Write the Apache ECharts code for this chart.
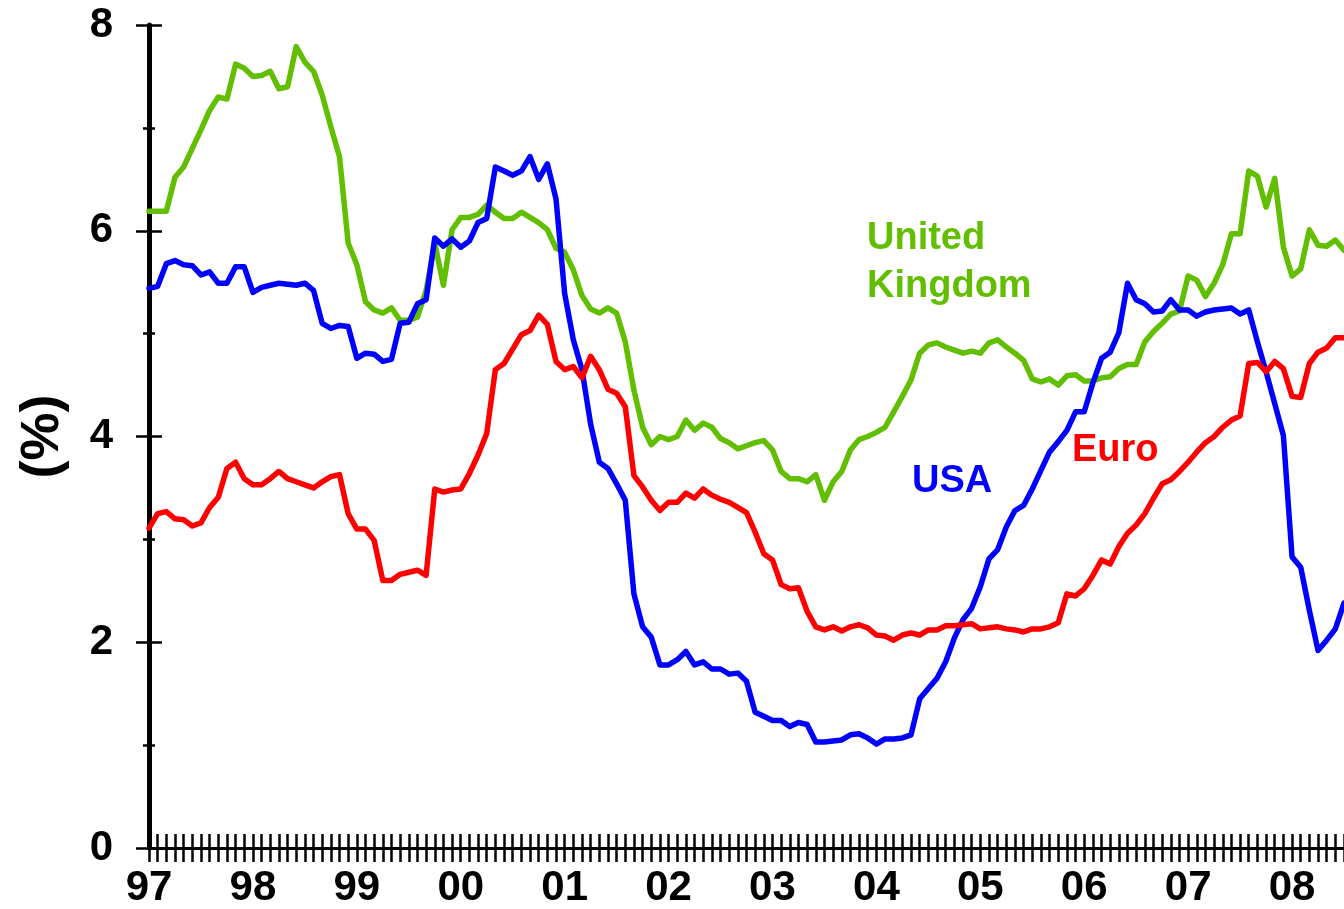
<!DOCTYPE html>
<html>
<head>
<meta charset="utf-8">
<script src="https://cdn.jsdelivr.net/npm/echarts@6/dist/echarts.min.js"></script>
<style>
  html, body { margin: 0; padding: 0; background: #fff; }
  #chart { width: 1344px; height: 909px; }
</style>
</head>
<body>
<div id="chart"></div>
<script>
var chart = echarts.init(document.getElementById('chart'));

var FONT = "'Liberation Sans', Arial, sans-serif";

// year labels on the x axis (one per January)
var years = ['97', '98', '99', '00', '01', '02', '03', '04', '05', '06', '07', '08'];

// monthly values, Jan 1997 onwards (%)
var usa = [
    5.44, 5.46, 5.68, 5.71, 5.67, 5.66, 5.57, 5.60, 5.49, 5.49, 5.65, 5.65,
    5.40, 5.45, 5.47, 5.49, 5.48, 5.47, 5.49, 5.42, 5.10, 5.05, 5.08, 5.07,
    4.76, 4.81, 4.80, 4.73, 4.75, 5.10, 5.11, 5.29, 5.33, 5.93, 5.85, 5.92,
    5.84, 5.90, 6.08, 6.12, 6.62, 6.58, 6.54, 6.58, 6.72, 6.50, 6.65, 6.31,
    5.39, 4.94, 4.65, 4.12, 3.75, 3.69, 3.54, 3.38, 2.47, 2.15, 2.05, 1.78,
    1.78, 1.83, 1.91, 1.78, 1.81, 1.74, 1.74, 1.69, 1.70, 1.62, 1.32, 1.28,
    1.24, 1.24, 1.18, 1.22, 1.20, 1.03, 1.03, 1.04, 1.05, 1.10, 1.11, 1.07,
    1.01, 1.06, 1.06, 1.07, 1.10, 1.45, 1.55, 1.65, 1.81, 2.04, 2.22, 2.33,
    2.54, 2.81, 2.90, 3.12, 3.28, 3.33, 3.49, 3.67, 3.85, 3.95, 4.06, 4.24,
    4.24, 4.52, 4.76, 4.82, 5.01, 5.49, 5.33, 5.29, 5.21, 5.22, 5.33, 5.23,
    5.23, 5.17, 5.21, 5.23, 5.24, 5.25, 5.19, 5.23, 4.92, 4.63, 4.32, 4.01,
    2.83, 2.73, 2.31, 1.92, 2.02, 2.13, 2.38
];

var euro = [
    3.11, 3.25, 3.27, 3.20, 3.19, 3.13, 3.16, 3.31, 3.41, 3.69, 3.75, 3.59,
    3.53, 3.53, 3.59, 3.66, 3.59, 3.56, 3.53, 3.50, 3.56, 3.61, 3.63, 3.25,
    3.10, 3.10, 2.99, 2.60, 2.60, 2.66, 2.68, 2.70, 2.65, 3.49, 3.46, 3.48,
    3.49, 3.64, 3.82, 4.03, 4.65, 4.71, 4.85, 4.99, 5.03, 5.18, 5.09, 4.73,
    4.65, 4.68, 4.57, 4.78, 4.65, 4.46, 4.42, 4.29, 3.62, 3.51, 3.38, 3.28,
    3.36, 3.36, 3.45, 3.40, 3.49, 3.43, 3.39, 3.36, 3.31, 3.26, 3.07, 2.86,
    2.80, 2.56, 2.52, 2.53, 2.30, 2.15, 2.12, 2.15, 2.11, 2.15, 2.17, 2.14,
    2.07, 2.06, 2.02, 2.07, 2.09, 2.07, 2.12, 2.12, 2.16, 2.16, 2.17, 2.18,
    2.13, 2.14, 2.15, 2.13, 2.12, 2.10, 2.13, 2.13, 2.15, 2.19, 2.47, 2.45,
    2.52, 2.65, 2.80, 2.76, 2.93, 3.06, 3.14, 3.25, 3.40, 3.54, 3.58, 3.66,
    3.75, 3.85, 3.94, 4.00, 4.09, 4.16, 4.20, 4.71, 4.72, 4.63, 4.73, 4.66,
    4.39, 4.38, 4.71, 4.82, 4.86, 4.96, 4.96
];

var uk = [
    6.19, 6.19, 6.19, 6.52, 6.62, 6.80, 6.98, 7.17, 7.30, 7.28, 7.62, 7.58,
    7.50, 7.51, 7.55, 7.38, 7.40, 7.79, 7.64, 7.55, 7.32, 7.01, 6.72, 5.88,
    5.67, 5.31, 5.23, 5.20, 5.25, 5.13, 5.13, 5.16, 5.42, 5.88, 5.47, 6.01,
    6.13, 6.13, 6.16, 6.25, 6.18, 6.12, 6.12, 6.18, 6.13, 6.08, 6.01, 5.83,
    5.79, 5.62, 5.37, 5.24, 5.20, 5.25, 5.20, 4.92, 4.45, 4.09, 3.92, 4.00,
    3.97, 4.00, 4.16, 4.06, 4.13, 4.09, 3.98, 3.94, 3.88, 3.91, 3.94, 3.96,
    3.87, 3.66, 3.59, 3.59, 3.56, 3.63, 3.38, 3.56, 3.66, 3.87, 3.97, 4.00,
    4.04, 4.09, 4.24, 4.39, 4.55, 4.81, 4.89, 4.91, 4.87, 4.84, 4.81, 4.83,
    4.81, 4.91, 4.94, 4.87, 4.81, 4.74, 4.56, 4.53, 4.56, 4.50, 4.59, 4.60,
    4.54, 4.54, 4.57, 4.58, 4.66, 4.70, 4.70, 4.92, 5.02, 5.10, 5.19, 5.22,
    5.56, 5.52, 5.36, 5.49, 5.67, 5.97, 5.97, 6.58, 6.53, 6.23, 6.51, 5.84,
    5.56, 5.63, 6.01, 5.86, 5.85, 5.91, 5.81
];

// month categories "YY-MM"
var months = [];
for (var i = 0; i < uk.length; i++) {
    var mm = (i % 12) + 1;
    months.push(years[Math.floor(i / 12)] + '-' + (mm < 10 ? '0' + mm : mm));
}

var lineCol = '#000';

function xAx(inside) {
    return {
        type: 'category',
        position: 'bottom',
        data: months,
        boundaryGap: false,
        axisLine: { show: !inside, onZero: false, lineStyle: { color: lineCol, width: 3 } },
        axisTick: { show: true, inside: inside, length: 14, interval: 0, lineStyle: { color: lineCol, width: 2.5 } },
        axisLabel: {
            show: !inside,
            interval: function (idx) { return idx % 12 === 0; },
            formatter: function (v) { return v.slice(0, 2); },
            color: '#000',
            fontFamily: FONT,
            fontWeight: 'bold',
            fontSize: 42,
            margin: 19
        },
        splitLine: { show: false }
    };
}

function yAx(inside) {
    return {
        type: 'value',
        position: 'left',
        min: 0,
        max: 8,
        interval: 2,
        name: inside ? '' : '(%)',
        nameLocation: 'middle',
        nameRotate: 90,
        nameGap: 79,
        nameTextStyle: { color: '#000', fontFamily: FONT, fontWeight: 'bold', fontSize: 54 },
        axisLine: { show: !inside, onZero: false, lineStyle: { color: lineCol, width: 5 } },
        axisTick: { show: true, inside: inside, length: 13, lineStyle: { color: lineCol, width: 2.5 } },
        minorTick: { show: true, splitNumber: 2, length: 6, lineStyle: { color: lineCol, width: 2.5 } },
        axisLabel: {
            show: !inside,
            color: '#000',
            fontFamily: FONT,
            fontWeight: 'bold',
            fontSize: 42,
            margin: 36
        },
        splitLine: { show: false },
        minorSplitLine: { show: false }
    };
}

function line(name, data, color) {
    return {
        name: name,
        type: 'line',
        data: data,
        xAxisIndex: 0,
        yAxisIndex: 0,
        symbol: 'none',
        smooth: false,
        lineStyle: { color: color, width: 5.5, join: 'round', cap: 'round' },
        itemStyle: { color: color },
        animation: false
    };
}

var GREEN = '#62be00';

function note(text, x, y, color) {
    return {
        type: 'text',
        left: x,
        top: y,
        style: {
            text: text,
            fill: color,
            font: 'bold 38px ' + FONT
        }
    };
}

var option = {
    backgroundColor: '#fff',
    animation: false,
    grid: { left: 149, right: 0, top: 25, bottom: 61, containLabel: false, outerBoundsMode: 'none' },
    xAxis: [xAx(false), xAx(true)],
    yAxis: [yAx(false), yAx(true)],
    series: [
        line('United Kingdom', uk, GREEN),
        line('USA', usa, '#0000ff'),
        line('Euro', euro, '#ff0000')
    ],
    graphic: [
        note('United', 867, 220, GREEN),
        note('Kingdom', 867, 268, GREEN),
        note('USA', 912, 463, '#0000ff'),
        note('Euro', 1072, 432, '#ff0000')
    ]
};

chart.setOption(option);
</script>
</body>
</html>
